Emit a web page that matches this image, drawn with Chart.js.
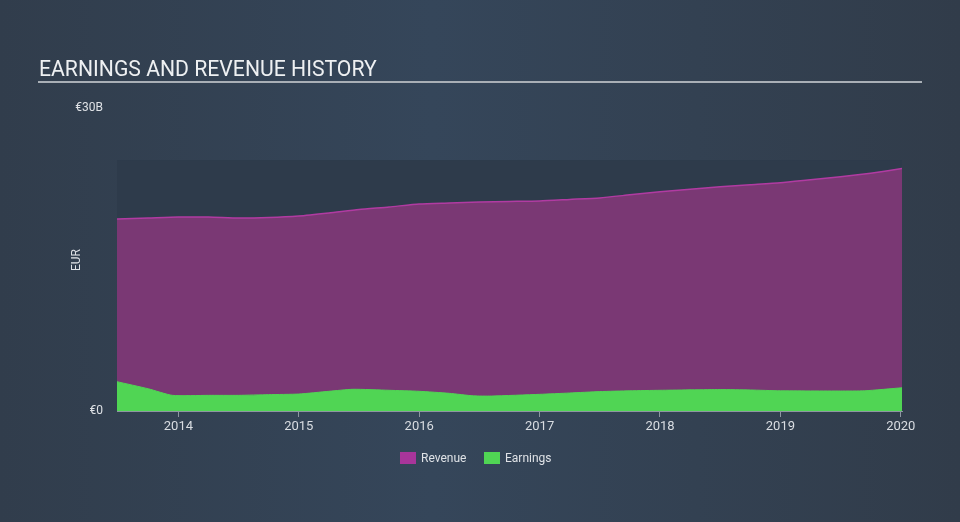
<!DOCTYPE html>
<html>
<head>
<meta charset="utf-8">
<script src="https://cdn.jsdelivr.net/npm/chart.js@4.4.1/dist/chart.umd.min.js"></script>
<style>
  html, body { margin: 0; padding: 0; background: #334151; }
  #wrap { width: 960px; height: 522px; position: relative; }
  canvas { display: block; }
</style>
</head>
<body>
<div id="wrap"><canvas id="c" width="960" height="522"></canvas></div>
<script>
// ---- Data (EUR billions, x in decimal years) ----
const revenueYears = [2013.49, 2013.75, 2014.0, 2014.25, 2014.5, 2014.75, 2015.0, 2015.25, 2015.5, 2015.75, 2016.0, 2016.25, 2016.5, 2016.75, 2017.0, 2017.25, 2017.5, 2017.75, 2018.0, 2018.25, 2018.5, 2018.75, 2019.0, 2019.25, 2019.5, 2019.75, 2020.01];
const revenueValues = [19.0, 19.1, 19.2, 19.2, 19.1, 19.15, 19.3, 19.6, 19.95, 20.2, 20.5, 20.6, 20.7, 20.75, 20.8, 20.95, 21.1, 21.4, 21.7, 21.95, 22.2, 22.4, 22.6, 22.9, 23.2, 23.55, 24.0];
const earningsYears = [2013.49, 2013.75, 2013.95, 2014.25, 2014.5, 2014.75, 2015.0, 2015.25, 2015.45, 2015.75, 2016.0, 2016.25, 2016.45, 2016.6, 2017.0, 2017.25, 2017.5, 2017.75, 2018.0, 2018.5, 2018.75, 2019.0, 2019.5, 2019.7, 2020.01];
const earningsValues = [2.9, 2.2, 1.55, 1.55, 1.55, 1.62, 1.68, 1.95, 2.15, 2.05, 1.95, 1.75, 1.5, 1.48, 1.65, 1.78, 1.92, 2.0, 2.05, 2.12, 2.08, 2.0, 1.98, 2.0, 2.3];
const xTickYears = [2014, 2015, 2016, 2017, 2018, 2019, 2020];
const yTickValues = [0, 30];
const yTickLabels = ['€0', '€30B'];
const seriesNames = ['Revenue', 'Earnings'];
const chartTitle = 'EARNINGS AND REVENUE HISTORY';
const axisTitle = 'EUR';

const FONT = 'Roboto, "Open Sans", Arial, sans-serif';
const REV_FILL = '#7a3874';
const REV_LINE = '#b13ba2';
const REV_LEGEND = '#a8359a';
const EARN_FILL = '#50d554';
const BAND_TOP_VALUE = 24.85;

const toPts = (xs, ys) => xs.map((x, i) => ({ x: x, y: ys[i] }));

const decor = {
  id: 'decor',
  beforeDraw(chart) {
    const ctx = chart.ctx;
    const W = chart.width, H = chart.height;
    ctx.save();
    const g = ctx.createLinearGradient(0, 0, W, 0);
    g.addColorStop(0, '#313d4c');
    g.addColorStop(0.45, '#35465a');
    g.addColorStop(1, '#313c4a');
    ctx.fillStyle = g;
    ctx.fillRect(0, 0, W, H);
    const a = chart.chartArea;
    const yTop = chart.scales.y.getPixelForValue(BAND_TOP_VALUE);
    ctx.fillStyle = '#2e3b4b';
    ctx.fillRect(a.left, yTop, a.right - a.left, a.bottom - yTop);
    ctx.restore();
  },
  afterDraw(chart) {
    const ctx = chart.ctx;
    ctx.save();
    // title
    ctx.fillStyle = '#eef0f2';
    ctx.font = '21.2px ' + FONT;
    ctx.textBaseline = 'alphabetic';
    ctx.textAlign = 'left';
    ctx.fillText(chartTitle, 39, 76);
    ctx.strokeStyle = '#a9afb6';
    ctx.lineWidth = 2;
    ctx.beginPath();
    ctx.moveTo(38, 82);
    ctx.lineTo(922, 82);
    ctx.stroke();
    // axis title
    ctx.save();
    ctx.translate(77, 260);
    ctx.rotate(-Math.PI / 2);
    ctx.textAlign = 'center';
    ctx.textBaseline = 'middle';
    ctx.font = '12px ' + FONT;
    ctx.fillStyle = '#dfe2e6';
    ctx.fillText(axisTitle, 0, 0);
    ctx.restore();
    // legend
    ctx.font = '12px ' + FONT;
    ctx.textBaseline = 'middle';
    ctx.textAlign = 'left';
    const ly = 458;
    const items = [
      { name: seriesNames[0], color: REV_LEGEND, x: 400 },
      { name: seriesNames[1], color: EARN_FILL, x: 484 }
    ];
    items.forEach(it => {
      ctx.fillStyle = it.color;
      ctx.fillRect(it.x, ly - 6, 16, 12);
      ctx.fillStyle = '#dfe2e6';
      ctx.fillText(it.name, it.x + 21, ly + 0.5);
    });
    ctx.restore();
  }
};

new Chart(document.getElementById('c'), {
  type: 'line',
  data: {
    datasets: [
      {
        label: seriesNames[1],
        data: toPts(earningsYears, earningsValues),
        borderColor: EARN_FILL,
        backgroundColor: EARN_FILL,
        borderWidth: 1,
        fill: 'origin',
        pointRadius: 0,
        tension: 0.2,
        order: 0
      },
      {
        label: seriesNames[0],
        data: toPts(revenueYears, revenueValues),
        borderColor: REV_LINE,
        backgroundColor: REV_FILL,
        borderWidth: 1.5,
        fill: 'origin',
        pointRadius: 0,
        tension: 0.2,
        order: 1
      }
    ]
  },
  options: {
    responsive: false,
    animation: false,
    events: [],
    layout: { padding: { left: 0, right: 58, top: 108, bottom: 0 } },
    plugins: { legend: { display: false }, tooltip: { enabled: false }, title: { display: false } },
    scales: {
      x: {
        type: 'linear',
        min: 2013.49,
        max: 2020.01,
        afterBuildTicks: s => { s.ticks = xTickYears.map(v => ({ value: v })); },
        afterFit: s => { s.height = 111; },
        ticks: {
          color: '#d9dde2',
          font: { family: FONT, size: 13 },
          padding: 2,
          maxRotation: 0,
          autoSkip: false,
          callback: v => String(v)
        },
        grid: { drawOnChartArea: false, drawTicks: true, tickLength: 6, color: '#8d96a1', lineWidth: 1 },
        border: { display: true, color: '#8d96a1', width: 1 }
      },
      y: {
        type: 'linear',
        min: 0,
        max: 30,
        afterBuildTicks: s => { s.ticks = yTickValues.map(v => ({ value: v })); },
        afterFit: s => { s.width = 117; },
        ticks: {
          color: '#dfe2e6',
          font: { family: FONT, size: 12 },
          padding: 14,
          callback: v => yTickLabels[yTickValues.indexOf(v)]
        },
        grid: { display: false, drawTicks: false },
        border: { display: false }
      }
    }
  },
  plugins: [decor]
});
</script>
</body>
</html>
